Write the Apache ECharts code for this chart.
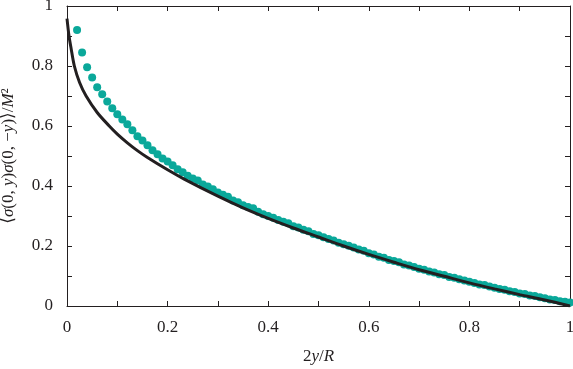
<!DOCTYPE html>
<html>
<head>
<meta charset="utf-8">
<script src="https://cdn.jsdelivr.net/npm/echarts@6/dist/echarts.min.js"></script>
<style>
  html, body { margin: 0; padding: 0; background: #fff; }
  #main { width: 573px; height: 369px; }
</style>
</head>
<body>
<div id="main"></div>
<script>
// simulation points (teal dots)
var dotX = [0.02, 0.03, 0.04, 0.05, 0.06, 0.07, 0.08, 0.09, 0.10, 0.11, 0.12, 0.13, 0.14, 0.15, 0.16, 0.17, 0.18, 0.19,
  0.20, 0.21, 0.22, 0.23, 0.24, 0.25, 0.26, 0.27, 0.28, 0.29, 0.30, 0.31, 0.32, 0.33, 0.34, 0.35, 0.36, 0.37, 0.38, 0.39,
  0.40, 0.41, 0.42, 0.43, 0.44, 0.45, 0.46, 0.47, 0.48, 0.49, 0.50, 0.51, 0.52, 0.53, 0.54, 0.55, 0.56, 0.57, 0.58, 0.59,
  0.60, 0.61, 0.62, 0.63, 0.64, 0.65, 0.66, 0.67, 0.68, 0.69, 0.70, 0.71, 0.72, 0.73, 0.74, 0.75, 0.76, 0.77, 0.78, 0.79,
  0.80, 0.81, 0.82, 0.83, 0.84, 0.85, 0.86, 0.87, 0.88, 0.89, 0.90, 0.91, 0.92, 0.93, 0.94, 0.95, 0.96, 0.97, 0.98, 0.99, 1.00];
var dotY = [0.920, 0.845, 0.796, 0.762, 0.729, 0.706, 0.682, 0.659, 0.639, 0.622, 0.606, 0.586, 0.566, 0.552, 0.536, 0.519, 0.506, 0.492,
  0.482, 0.469, 0.456, 0.446, 0.434, 0.425, 0.418, 0.405, 0.398, 0.389, 0.378, 0.371, 0.364, 0.352, 0.346, 0.336, 0.330, 0.326, 0.314, 0.306,
  0.300, 0.294, 0.287, 0.281, 0.276, 0.266, 0.262, 0.254, 0.249, 0.240, 0.236, 0.229, 0.223, 0.218, 0.211, 0.206, 0.201, 0.195, 0.188, 0.184,
  0.176, 0.172, 0.164, 0.161, 0.153, 0.150, 0.146, 0.138, 0.135, 0.130, 0.124, 0.121, 0.115, 0.112, 0.106, 0.103, 0.097, 0.094, 0.089, 0.085,
  0.081, 0.077, 0.072, 0.070, 0.065, 0.061, 0.057, 0.054, 0.049, 0.047, 0.042, 0.040, 0.035, 0.033, 0.029, 0.026, 0.022, 0.020, 0.016, 0.014, 0.012];

// theory curve (black line)
var curveX = [0, 0.004, 0.008, 0.0146, 0.025, 0.038, 0.06, 0.084, 0.10, 0.12, 0.14, 0.16, 0.20, 0.233, 0.30, 0.35,
  0.40, 0.45, 0.50, 0.55, 0.60, 0.65, 0.70, 0.75, 0.80, 0.85, 0.90, 0.95, 1.0];
var curveY = [0.958, 0.90, 0.86, 0.80, 0.745, 0.70, 0.645, 0.60, 0.573, 0.544, 0.518, 0.495, 0.454, 0.423, 0.366, 0.327,
  0.292, 0.260, 0.230, 0.200, 0.172, 0.146, 0.121, 0.099, 0.077, 0.057, 0.038, 0.020, 0.0];

var xTicks = [0, 0.2, 0.4, 0.6, 0.8, 1];
var yTicks = [0, 0.2, 0.4, 0.6, 0.8, 1];

var dots = dotX.map(function (x, i) { return [x, dotY[i]]; });
var curve = curveX.map(function (x, i) { return [x, curveY[i]]; });

var font = '"Liberation Serif", "DejaVu Serif", serif';
var ink = '#231f20';

function fmt(v) {
  for (var i = 0; i < xTicks.length; i++) {
    if (Math.abs(v - xTicks[i]) < 1e-6) return String(xTicks[i]);
  }
  return '';
}

function frameAxis(extra) {
  var a = {
    type: 'value', min: 0, max: 1, interval: 0.2,
    axisLine: { show: true, onZero: false, lineStyle: { color: ink, width: 1 } },
    axisTick: { show: true, inside: true, length: 5, lineStyle: { color: ink } },
    minorTick: { show: true, splitNumber: 2, length: 5, lineStyle: { color: ink } },
    splitLine: { show: false },
    axisLabel: { show: false }
  };
  for (var k in extra) a[k] = extra[k];
  return a;
}

var myChart = echarts.init(document.getElementById('main'), null, { renderer: 'canvas' });

var option = {
  animation: false,
  backgroundColor: '#fff',
  grid: { left: 67, right: 3, top: 6, bottom: 63, containLabel: false, outerBoundsMode: 'none' },
  xAxis: [
    frameAxis({
      position: 'bottom',
      name: '2{i|y}/{i|R}',
      nameLocation: 'middle',
      nameGap: 42,
      nameTextStyle: { fontFamily: font, fontSize: 17, color: ink, rich: { i: { fontFamily: font, fontStyle: 'italic', fontSize: 17, color: ink } } },
      axisLabel: { show: true, margin: 13, fontFamily: font, fontSize: 17, color: ink, formatter: fmt }
    }),
    frameAxis({ position: 'top' })
  ],
  yAxis: [
    frameAxis({
      position: 'left',
      name: '⟨{i|σ}(0, {i|y}){i|σ}(0, −{i|y})⟩/{i|M}²',
      nameLocation: 'middle',
      nameGap: 50,
      nameTextStyle: { fontFamily: font, fontSize: 17, color: ink, rich: { i: { fontFamily: font, fontStyle: 'italic', fontSize: 17, color: ink } } },
      axisLabel: { show: true, margin: 14, fontFamily: font, fontSize: 17, color: ink, formatter: fmt }
    }),
    frameAxis({ position: 'right' })
  ],
  series: [
    {
      type: 'scatter',
      data: dots,
      symbol: 'circle',
      symbolSize: 8,
      itemStyle: { color: '#0aa89a', opacity: 1 },
      z: 2
    },
    {
      type: 'line',
      data: curve,
      smooth: 0.3,
      showSymbol: false,
      symbol: 'none',
      lineStyle: { color: ink, width: 3 },
      z: 3
    }
  ]
};

myChart.setOption(option);

window.onresize = () => {
  myChart.resize()
}
</script>
</body>
</html>
